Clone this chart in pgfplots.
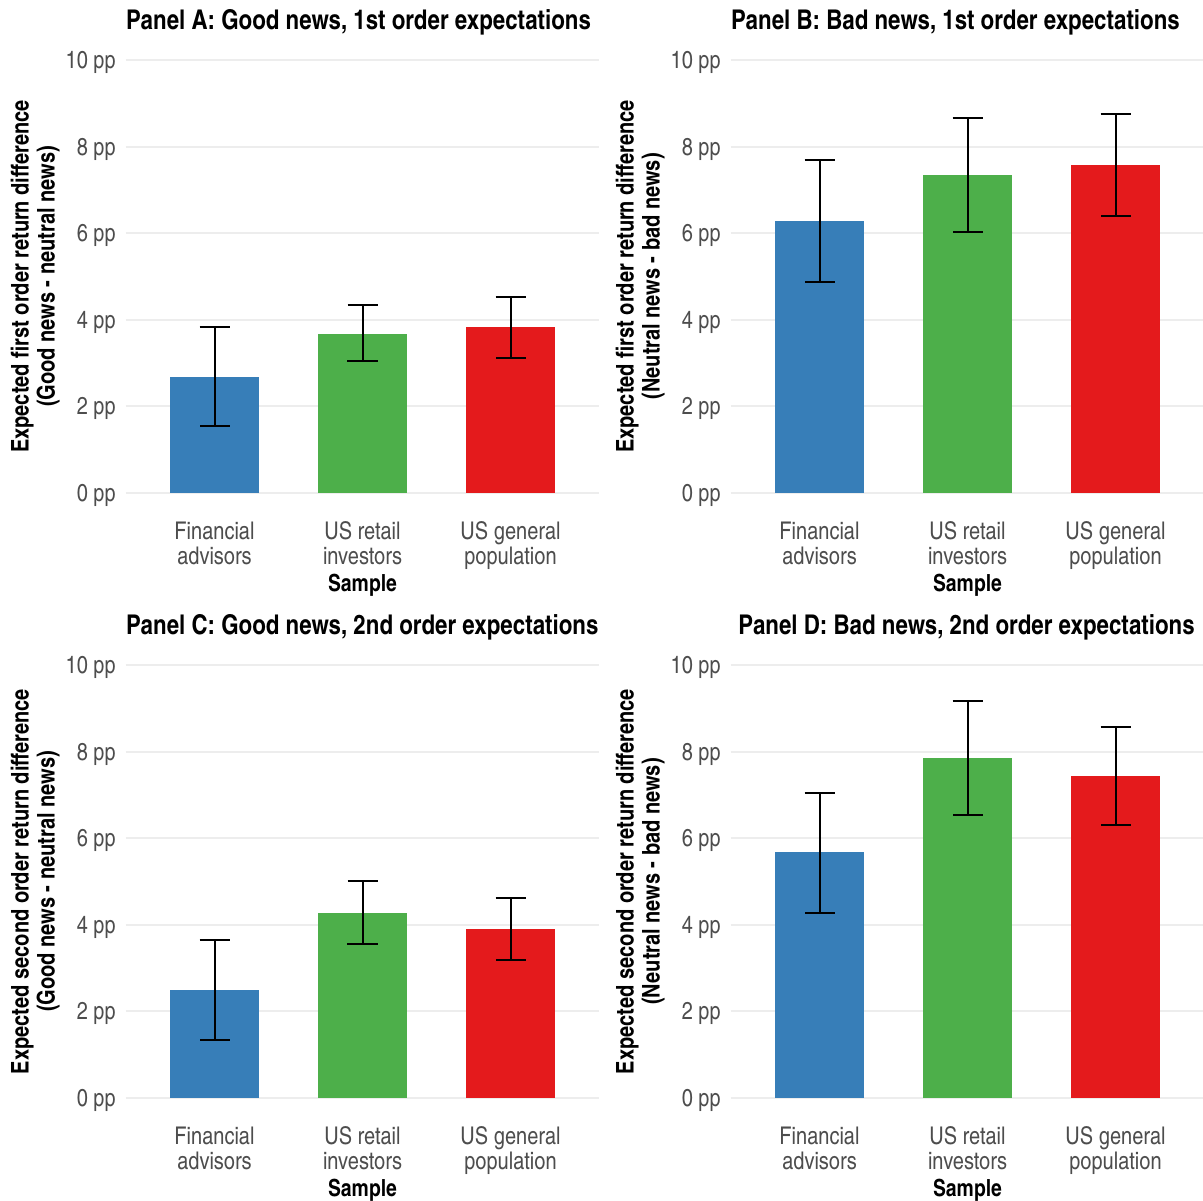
\documentclass[border=0pt]{standalone}
\usepackage{fontspec}
\setmainfont{texgyreheroscn-regular.otf}[BoldFont=texgyreheroscn-bold.otf]
\usepackage{pgfplots}
\pgfplotsset{compat=1.18}
\definecolor{cblue}{HTML}{377EB8}
\definecolor{cgreen}{HTML}{4DAF4A}
\definecolor{cred}{HTML}{E41A1C}
\definecolor{tickgray}{HTML}{4D4D4D}
\definecolor{gridgray}{HTML}{EDEDED}
\newcommand\tickfont{\fontsize{12.2}{12.5}\selectfont}
\newcommand\ylabfont{\bfseries\fontsize{12.2}{13}\selectfont}
\newcommand\xlabfont{\bfseries\fontsize{11.8}{13}\selectfont}
\newcommand\titfont{\bfseries\fontsize{13.6}{15}\selectfont}
\pgfplotsset{
  panel/.style={
    scale only axis, width=236.8pt, height=238.15pt,
    xmin=0.4, xmax=3.6, ymin=-0.5, ymax=10.5,
    axis line style={draw=none}, major tick length=0pt,
    xtick={1,2,3},
    xticklabels={{Financial\\advisors},{US retail\\investors},{US general\\population}},
    xticklabel style={align=center, font=\tickfont, text=tickgray, inner sep=0pt, anchor=north, yshift=-3.4pt},
    ytick={0,2,4,6,8,10}, yticklabels={0 pp,2 pp,4 pp,6 pp,8 pp,10 pp},
    yticklabel style={font=\tickfont, text=tickgray, inner sep=0pt, anchor=base east, xshift=-4.8pt, yshift=-4.3pt},
    ymajorgrids, major grid style={line width=1pt, color=gridgray},
    xlabel={Sample},
    xlabel style={font=\xlabfont, at={(axis description cs:0.5,0)}, anchor=north, inner sep=0pt, yshift=-29.5pt},
    ylabel style={font=\ylabfont, align=center, at={(axis description cs:0,0.5)}, anchor=center, inner sep=0pt, yshift=45.3pt},
    title style={font=\titfont, at={(axis description cs:0,1)}, anchor=base west, inner sep=0pt, yshift=-1.8pt},
    clip=false,
  },
  bars/.style={ybar, bar width=0.6, bar shift=0pt, draw=none, fill=#1,
    error bars/.cd, y dir=both, y explicit,
    error bar style={draw=black, line width=1pt},
    error mark options={rotate=90, draw=black, line width=1pt, mark size=7.5pt}},
}
\begin{document}
\begin{tikzpicture}
\path[use as bounding box] (0,0) rectangle (601.5pt,600pt);
% Panel A
\begin{axis}[panel, at={(62.85pt,342.68pt)}, anchor=south west,
  title={Panel A: Good news, 1st order expectations},
  ylabel={Expected first order return difference\\(Good news - neutral news)}]
\addplot[bars=cblue] coordinates {(1,2.68) += (0,1.15) -= (0,1.13)};
\addplot[bars=cgreen] coordinates {(2,3.67) += (0,0.67) -= (0,0.62)};
\addplot[bars=cred] coordinates {(3,3.83) += (0,0.70) -= (0,0.71)};
\end{axis}
% Panel B
\begin{axis}[panel, at={(365.35pt,342.68pt)}, anchor=south west,
  title={Panel B: Bad news, 1st order expectations},
  ylabel={Expected first order return difference\\(Neutral news - bad news)}]
\addplot[bars=cblue] coordinates {(1,6.28) += (0,1.41) -= (0,1.41)};
\addplot[bars=cgreen] coordinates {(2,7.34) += (0,1.32) -= (0,1.31)};
\addplot[bars=cred] coordinates {(3,7.57) += (0,1.18) -= (0,1.17)};
\end{axis}
% Panel C
\begin{axis}[panel, at={(62.85pt,40.18pt)}, anchor=south west,
  title={Panel C: Good news, 2nd order expectations},
  ylabel={Expected second order return difference\\(Good news - neutral news)}]
\addplot[bars=cblue] coordinates {(1,2.49) += (0,1.16) -= (0,1.15)};
\addplot[bars=cgreen] coordinates {(2,4.27) += (0,0.74) -= (0,0.71)};
\addplot[bars=cred] coordinates {(3,3.90) += (0,0.72) -= (0,0.71)};
\end{axis}
% Panel D
\begin{axis}[panel, at={(365.35pt,40.18pt)}, anchor=south west,
  title style={xshift=3.65pt},
  title={Panel D: Bad news, 2nd order expectations},
  ylabel={Expected second order return difference\\(Neutral news - bad news)}]
\addplot[bars=cblue] coordinates {(1,5.68) += (0,1.36) -= (0,1.41)};
\addplot[bars=cgreen] coordinates {(2,7.85) += (0,1.32) -= (0,1.31)};
\addplot[bars=cred] coordinates {(3,7.44) += (0,1.13) -= (0,1.14)};
\end{axis}
\end{tikzpicture}
\end{document}
